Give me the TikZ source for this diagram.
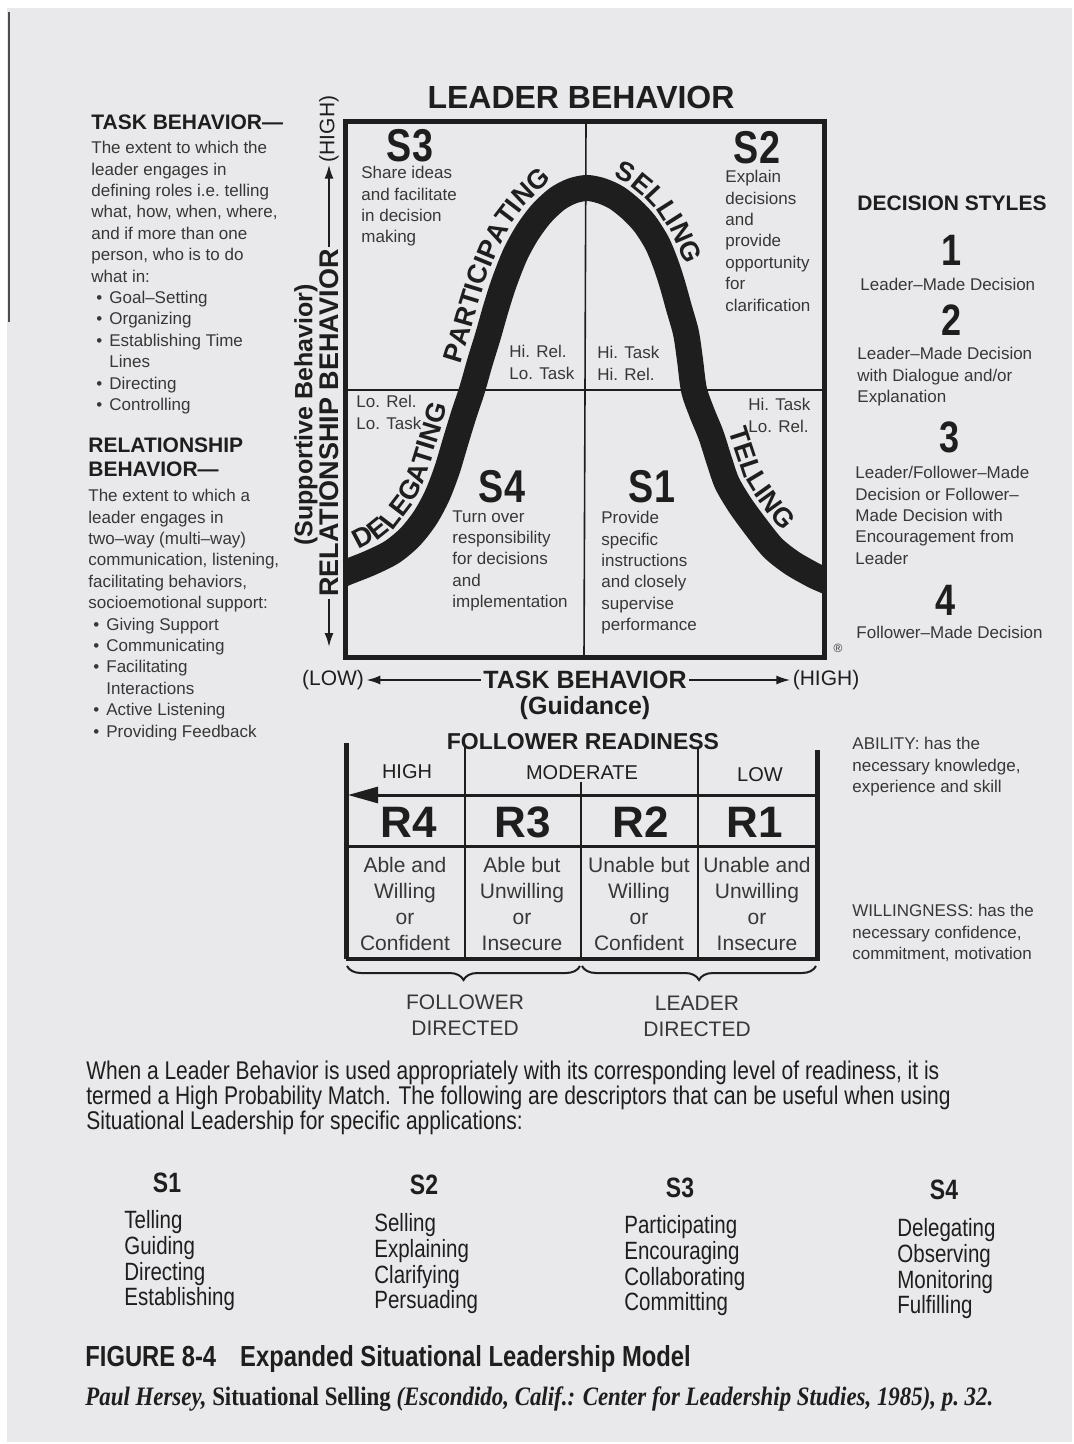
\documentclass[tikz,border=0pt]{standalone}
\usepackage{fontspec}
\setmainfont{Liberation Sans}
\newfontfamily\cnd{Liberation Sans}[FakeStretch=0.82]
\newfontfamily\citefont{Liberation Serif}[FakeStretch=0.86]
\usetikzlibrary{arrows.meta,decorations.text,decorations.pathreplacing}

\definecolor{paper}{RGB}{233,233,235}
\definecolor{ink}{RGB}{30,30,30}
\definecolor{softink}{RGB}{55,55,55}

\newcommand\bodyfont{\fontsize{8.5}{10.7}\selectfont}
\newcommand\lblfont{\bfseries\fontsize{13.5}{13.5}\selectfont}
\newcommand\bitem[1]{\hspace*{2.5pt}\makebox[6.5pt][l]{•}#1}
\newcommand\bcont[1]{\hspace*{9pt}#1}

\tikzset{
  bodytxt/.style={font=\bodyfont, text=softink, align=left, inner sep=0pt, anchor=north west},
  headtxt/.style={font=\bfseries\fontsize{10.5}{12}\selectfont, text=ink, align=left, inner sep=0pt, anchor=north west},
  squad/.style={font=\cnd\bfseries\fontsize{23}{23}\selectfont, text=ink, inner sep=0pt},
  snum/.style={font=\cnd\bfseries\fontsize{22}{22}\selectfont, text=ink, inner sep=0pt},
  axbig/.style={font=\bfseries\fontsize{12.5}{14}\selectfont, text=ink, inner sep=1pt},
  axsmall/.style={font=\fontsize{10.5}{12}\selectfont, text=ink, inner sep=1pt},
  axarrow/.style={draw=ink, line width=1pt, -{Latex[length=7pt,width=4.5pt]}},
  midline/.style={draw=ink, line width=0.8pt},
  band/.style={draw=ink, line width=13pt},
  boxframe/.style={draw=ink, line width=2.5pt},
  curvelbl/.style={decorate, decoration={text along path,
      text={|\lblfont\color{ink}|#1}, text align=center}},
  rcell/.style={font=\bfseries\fontsize{22}{22}\selectfont, text=ink, inner sep=0pt},
  rtext/.style={font=\fontsize{10.5}{13}\selectfont, text=softink, align=center, inner sep=0pt, anchor=north},
  tabline/.style={draw=ink, line width=1pt},
  brc/.style={draw=ink, line width=1pt, decorate, decoration={brace, mirror, amplitude=7pt}},
  bottxt/.style={font=\cnd\fontsize{12.8}{12.5}\selectfont, text=ink, align=left, inner sep=0pt, anchor=north west},
  shead/.style={font=\cnd\bfseries\fontsize{14}{14}\selectfont, text=ink, inner sep=0pt},
  slist/.style={font=\cnd\fontsize{12.5}{12.9}\selectfont, text=ink, align=left, inner sep=0pt, anchor=north west}
}

\begin{document}
\begin{tikzpicture}[x=0.5pt, y=-0.5pt]
% page
\useasboundingbox (0,0) rectangle (1074,1444);
\fill[white] (0,0) rectangle (1074,1444);
\fill[paper] (7,8) rectangle (1072,1442);
\draw[line width=1.2pt, black!70] (9,12) -- (9,322);

% left column
\node[headtxt] (taskhead) at (91,114) {TASK BEHAVIOR—};
\node[bodytxt] (taskdef) at (91,141) {The extent to which the\\leader engages in\\defining roles i.e.\ telling\\what, how, when, where,\\and if more than one\\person, who is to do\\what in:\\\bitem{Goal–Setting}\\\bitem{Organizing}\\\bitem{Establishing Time}\\\bcont{Lines}\\\bitem{Directing}\\\bitem{Controlling}};
\node[headtxt] (relhead) at (88,437) {RELATIONSHIP\\BEHAVIOR—};
\node[bodytxt] (reldef) at (88,489) {The extent to which a\\leader engages in\\two–way (multi–way)\\communication, listening,\\facilitating behaviors,\\socioemotional support:\\\bitem{Giving Support}\\\bitem{Communicating}\\\bitem{Facilitating}\\\bcont{Interactions}\\\bitem{Active Listening}\\\bitem{Providing Feedback}};

% leader behavior chart
\coordinate (boxnw) at (345,122);
\coordinate (boxse) at (824,657);
\node[font=\bfseries\fontsize{16}{16}\selectfont, text=ink] (ldrtitle) at (581,97) {LEADER BEHAVIOR};
\draw[midline] (345,390) -- (824,390);
\draw[midline] (586,122) -- (584,657);
\begin{scope}
  \clip (boxnw) rectangle (boxse);
  \draw[band] plot[smooth, tension=0.5] coordinates {(330,580) (345,573) (370,563) (392,552) (410,537) (425,518) (437,496) (447,470) (456,440) (464,414) (472,390) (480,362) (488,336) (496,308) (504,283) (515,255) (527,233) (541,214) (557,199) (572,191) (587,188) (602,191) (617,198) (632,210) (645,224) (657,243) (665,262) (672,283) (679,308) (686,333) (690,360) (694,390) (702,413) (711,435) (719,460) (727,483) (740,505) (756,527) (773,548) (792,563) (813,575) (824,580) (840,587)};
\end{scope}
\draw[boxframe] (boxnw) rectangle (boxse);

% style names along the curve
\path[curvelbl={DELEGATING}] (338,556) -- (363,547) -- (382,537) -- (397,525) -- (410,508) -- (421,489) -- (430,464) -- (439,435) -- (447,409) -- (455,385);
\path[curvelbl={PARTICIPATING}] (457,379) -- (463,357) -- (471,331) -- (479,303) -- (487,277) -- (499,248) -- (512,223) -- (528,202) -- (546,185) -- (566,174);
\path[curvelbl={SELLING}] (587,170) -- (608,174) -- (627,183) -- (644,197) -- (659,213) -- (673,235) -- (682,256) -- (689,278) -- (693,292);
\path[curvelbl={TELLING}] (719,407) -- (728,429) -- (736,454) -- (743,475) -- (755,495) -- (770,516) -- (786,535) -- (802,548);

\node[squad] (s3) at (410,146) {S3};
\node[bodytxt] (s3txt) at (361,166) {Share ideas\\and facilitate\\in decision\\making};
\node[squad] (s2) at (757,148) {S2};
\node[bodytxt] (s2txt) at (725,170) {Explain\\decisions\\and\\provide\\opportunity\\for\\clarification};
\node[bodytxt] (hrlt) at (509,345) {Hi. Rel.\\Lo. Task};
\node[bodytxt] (hthr) at (597,346) {Hi. Task\\Hi. Rel.};
\node[bodytxt] (lrlt) at (356,395) {Lo. Rel.\\Lo. Task};
\node[bodytxt] (htlr) at (748,398) {Hi. Task\\Lo. Rel.};
\node[squad] (s4) at (502,487) {S4};
\node[bodytxt] (s4txt) at (452,510) {Turn over\\responsibility\\for decisions\\and\\implementation};
\node[squad] (s1) at (652,487) {S1};
\node[bodytxt] (s1txt) at (601,511) {Provide\\specific\\instructions\\and closely\\supervise\\performance};
\node[font=\fontsize{6}{6}\selectfont, text=softink] (regmark) at (838,648) {®};

% axes
\node[axbig] (taskax) at (585,680) {TASK BEHAVIOR};
\node[axsmall] (lowx) at (333,680) {(LOW)};
\node[axsmall] (highx) at (826,680) {(HIGH)};
\draw[axarrow] (taskax.west) -- (taskax.west -| lowx.east);
\draw[axarrow] (taskax.east) -- (taskax.east -| highx.west);
\node[axbig] (guid) at (585,708) {(Guidance)};
\node[axbig, font=\bfseries\fontsize{13.5}{14}\selectfont, rotate=90] (relax) at (329,423) {RELATIONSHIP BEHAVIOR};
\node[axsmall, rotate=90] (highy) at (329,129) {(HIGH)};
\coordinate (lowy) at (329,647);
\draw[axarrow] (relax.east) -- (relax.east |- highy.west);
\draw[axarrow] (relax.west) -- (lowy);
\node[axbig, rotate=90] (supp) at (306,415) {(Supportive Behavior)};

% decision styles
\node[headtxt, anchor=north] (dstyles) at (952,195) {DECISION STYLES};
\node[snum] (d1) at (952,250) {1};
\node[bodytxt] (d1txt) at (860,278) {Leader–Made Decision};
\node[snum] (d2) at (952,320) {2};
\node[bodytxt] (d2txt) at (857,347) {Leader–Made Decision\\with Dialogue and/or\\Explanation};
\node[snum] (d3) at (950,437) {3};
\node[bodytxt] (d3txt) at (855,466) {Leader/Follower–Made\\Decision or Follower–\\Made Decision with\\Encouragement from\\Leader};
\node[snum] (d4) at (946,600) {4};
\node[bodytxt] (d4txt) at (856,626) {Follower–Made Decision};

% follower readiness
\node[font=\bfseries\fontsize{11.5}{12}\selectfont, text=ink] (frtitle) at (583,742) {FOLLOWER READINESS};
\draw[draw=ink, line width=2.5pt] (346,743) -- (346,959);
\draw[draw=ink, line width=2.5pt] (817,750) -- (817,961);
\draw[tabline] (465,745) -- (465,959);
\draw[tabline] (581,782) -- (581,959);
\draw[tabline] (698,747) -- (698,959);
\coordinate (arrR) at (817,795);
\coordinate (arrL) at (348,795);
\draw[draw=ink, line width=1.5pt, -{Triangle[length=15pt,width=8pt]}] (arrR) -- (arrL);
\draw[draw=ink, line width=1.5pt] (346,846) -- (817,846);
\draw[draw=ink, line width=2pt] (346,959) -- (817,959);
\node[axsmall, font=\fontsize{10}{12}\selectfont] (hi) at (407,772) {HIGH};
\node[axsmall, font=\fontsize{10}{12}\selectfont] (mod) at (582,773) {MODERATE};
\node[axsmall, font=\fontsize{10}{12}\selectfont] (lo) at (760,775) {LOW};
\node[rcell] (r4) at (409,822) {R4};
\node[rcell] (r3) at (523,822) {R3};
\node[rcell] (r2) at (641,822) {R2};
\node[rcell] (r1) at (755,822) {R1};
\node[rtext] (r4txt) at (405,857) {Able and\\Willing\\or\\Confident};
\node[rtext] (r3txt) at (522,857) {Able but\\Unwilling\\or\\Insecure};
\node[rtext] (r2txt) at (639,857) {Unable but\\Willing\\or\\Confident};
\node[rtext] (r1txt) at (757,857) {Unable and\\Unwilling\\or\\Insecure};
\draw[brc] (347,966) -- (580,966);
\draw[brc] (582,966) -- (816,966);
\node[rtext] (fdir) at (465,994) {FOLLOWER\\DIRECTED};
\node[rtext] (ldir) at (697,996) {LEADER\\DIRECTED};
\node[bodytxt] (ability) at (852,737) {ABILITY: has the\\necessary knowledge,\\experience and skill};
\node[bodytxt] (willing) at (852,904) {WILLINGNESS: has the\\necessary confidence,\\commitment, motivation};

% bottom text
\node[bottxt] (para) at (86,1061) {When a Leader Behavior is used appropriately with its corresponding level of readiness, it is\\termed a High Probability Match. The following are descriptors that can be useful when using\\Situational Leadership for specific applications:};
\node[shead] (bs1) at (167,1183) {S1};
\node[slist] (bs1l) at (124,1210) {Telling\\Guiding\\Directing\\Establishing};
\node[shead] (bs2) at (424,1185) {S2};
\node[slist] (bs2l) at (374,1213) {Selling\\Explaining\\Clarifying\\Persuading};
\node[shead] (bs3) at (680,1188) {S3};
\node[slist] (bs3l) at (624,1215) {Participating\\Encouraging\\Collaborating\\Committing};
\node[shead] (bs4) at (944,1190) {S4};
\node[slist] (bs4l) at (897,1218) {Delegating\\Observing\\Monitoring\\Fulfilling};
\node[font=\cnd\bfseries\fontsize{14.5}{14.5}\selectfont, text=ink, inner sep=0pt, anchor=north west] (figcap) at (85,1345) {FIGURE 8-4\hspace{12pt}Expanded Situational Leadership Model};
\node[font=\citefont\bfseries\itshape\fontsize{13.3}{13.3}\selectfont, text=ink, inner sep=0pt, anchor=north west] (cite) at (85,1386) {Paul Hersey, {\upshape Situational Selling} (Escondido, Calif.: Center for Leadership Studies, 1985), p.~32.};
\end{tikzpicture}
\end{document}
